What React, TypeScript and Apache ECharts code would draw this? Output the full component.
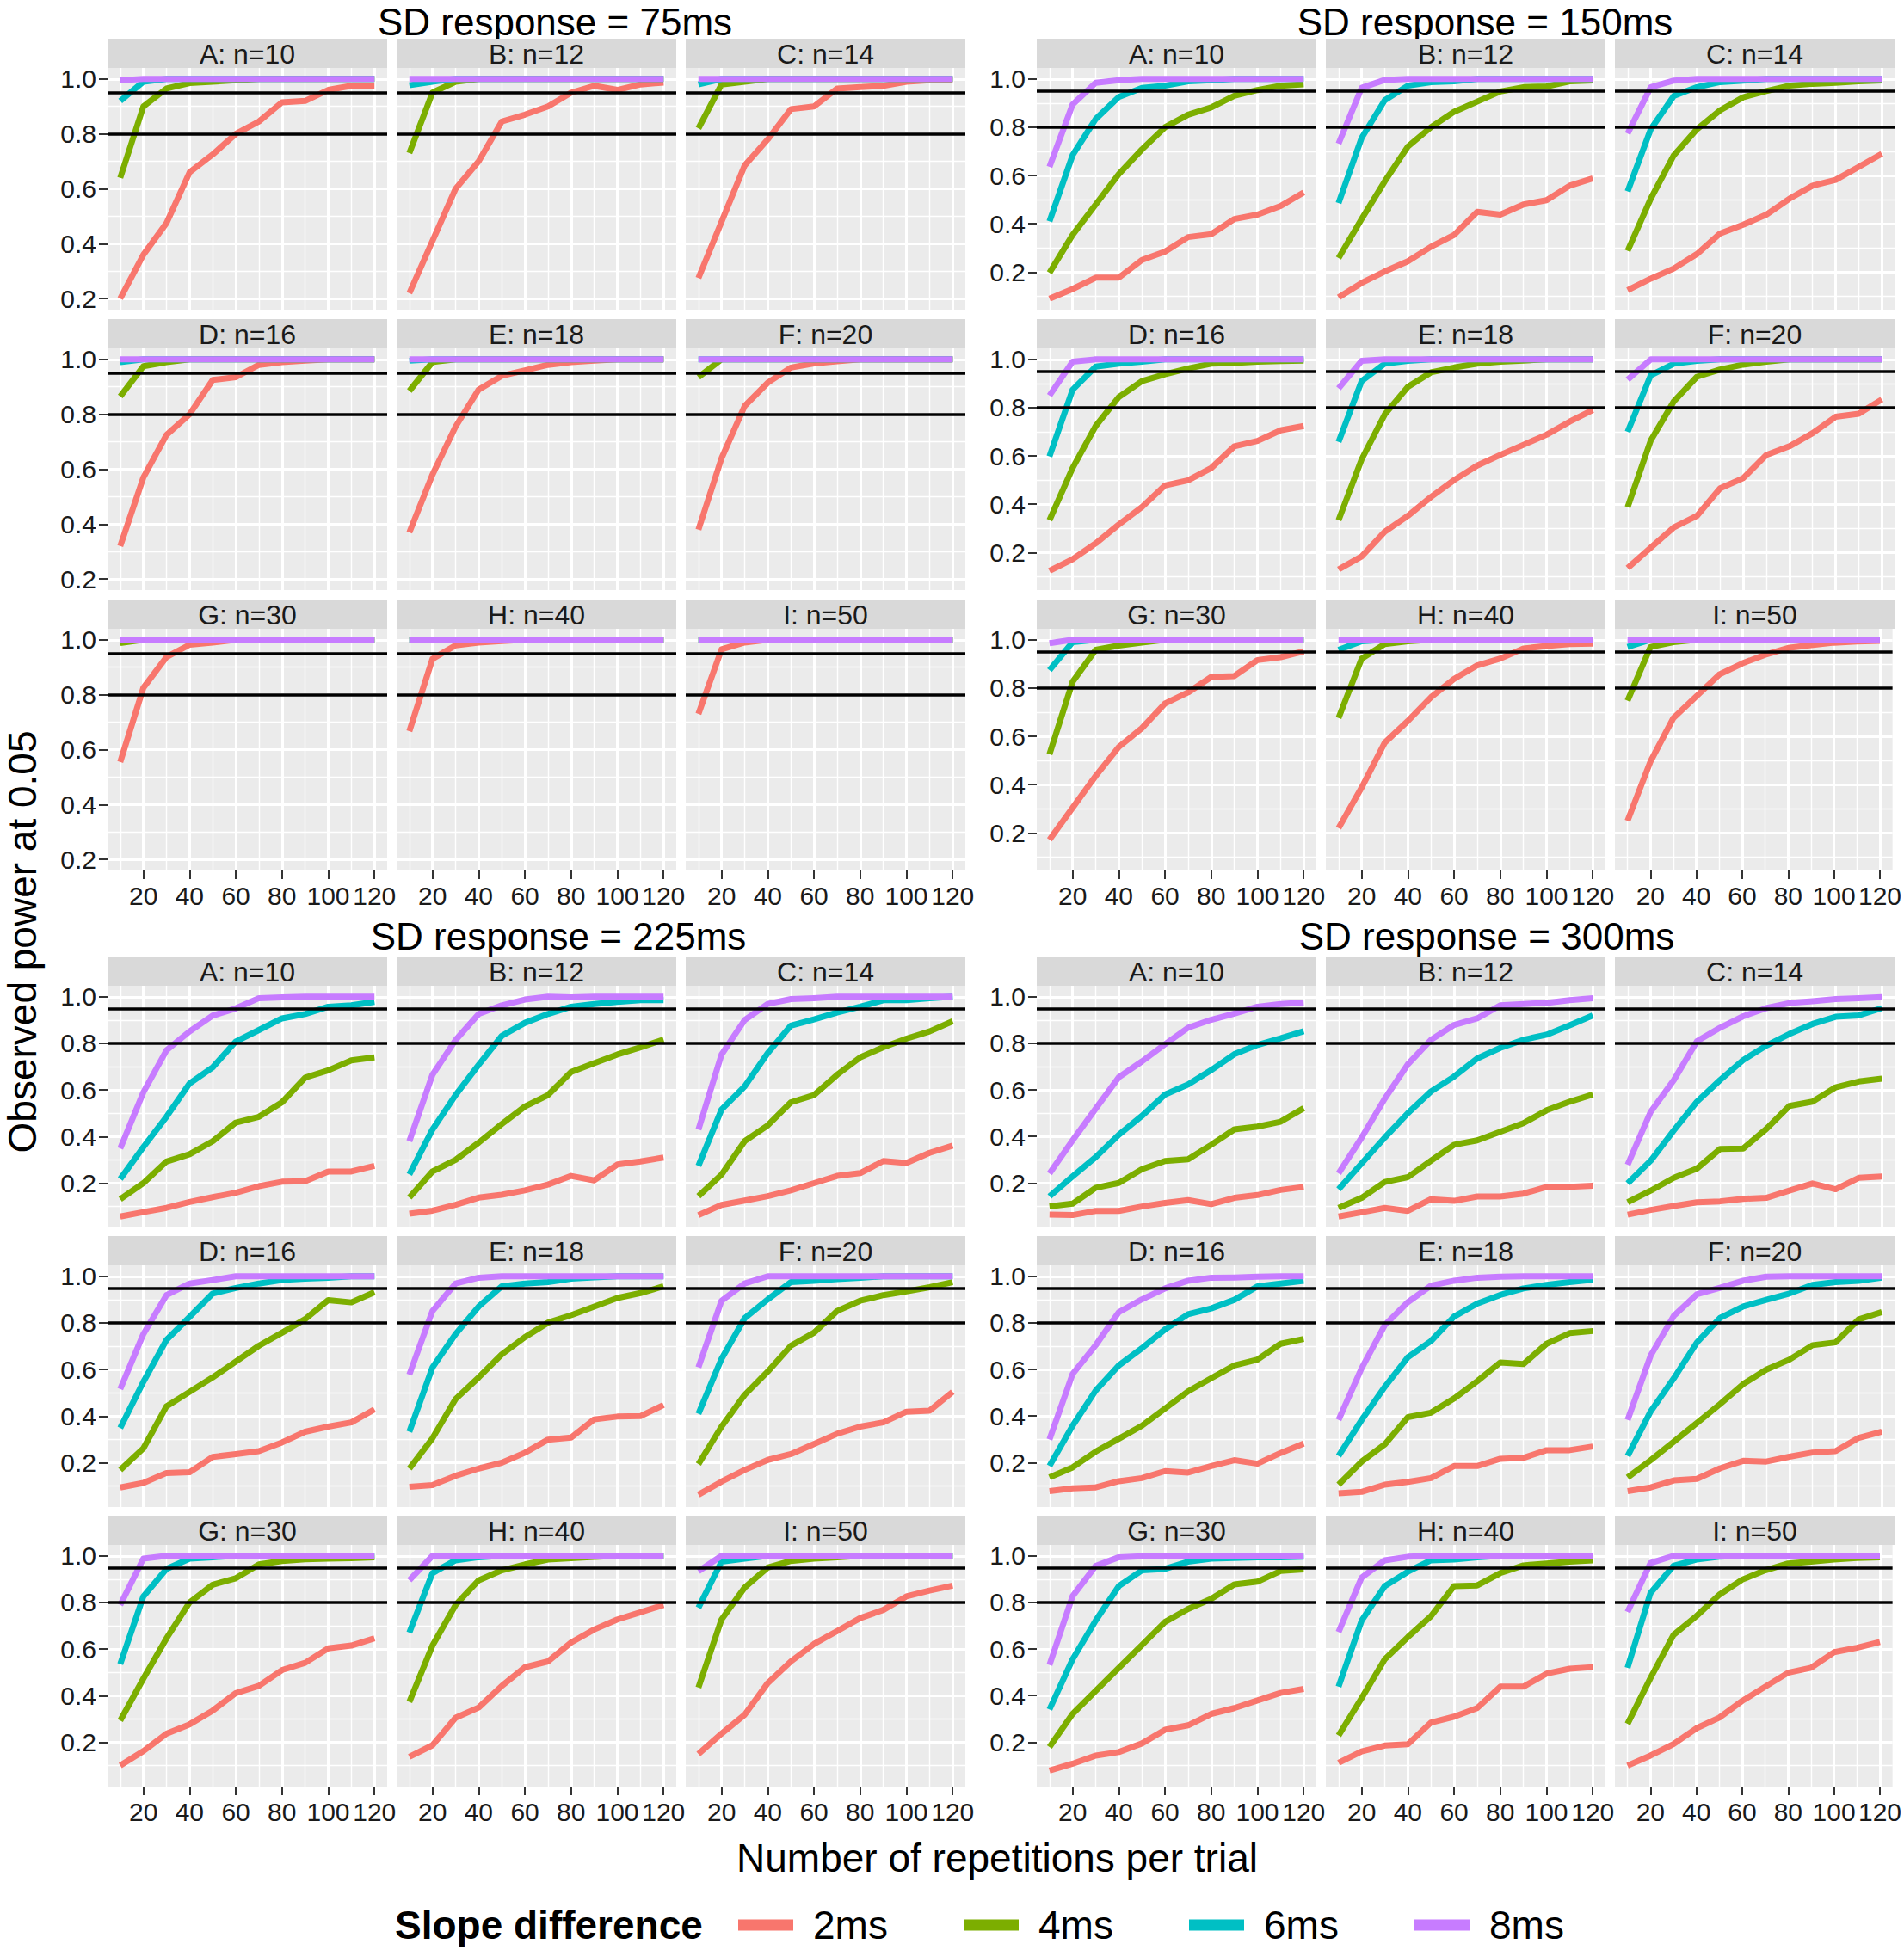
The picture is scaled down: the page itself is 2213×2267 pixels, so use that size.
import React, { useEffect, useRef } from 'react';
import * as echarts from 'echarts';

// ---------- data ----------
const REPS = [10, 20, 30, 40, 50, 60, 70, 80, 90, 100, 110, 120];
const X_TICKS = [20, 40, 60, 80, 100, 120];
const X_MINOR = [10, 30, 50, 70, 90, 110];
const Y_TICKS = [0.2, 0.4, 0.6, 0.8, 1.0];
const Y_MINOR = [0.1, 0.3, 0.5, 0.7, 0.9];
const REF_LINES = [0.8, 0.95];
const PANEL_LETTERS = ['A', 'B', 'C', 'D', 'E', 'F', 'G', 'H', 'I'];
const PANEL_N = [10, 12, 14, 16, 18, 20, 30, 40, 50];
const SLOPES = ['2ms', '4ms', '6ms', '8ms'];
const COLORS = ['#F8766D', '#7CAE00', '#00BFC4', '#C77CFF'];
const BLOCK_TITLES = ['SD response = 75ms', 'SD response = 150ms', 'SD response = 225ms', 'SD response = 300ms'];

// SD response = 75ms ; rows = panels A..I, columns = repetitions 10..120
const sd75_2ms = [
  [0.20, 0.36, 0.475, 0.66, 0.725, 0.80, 0.845, 0.915, 0.92, 0.96, 0.975, 0.975],
  [0.22, 0.41, 0.60, 0.70, 0.845, 0.87, 0.90, 0.95, 0.975, 0.96, 0.98, 0.987],
  [0.275, 0.48, 0.685, 0.78, 0.89, 0.90, 0.965, 0.97, 0.975, 0.99, 0.995, 0.995],
  [0.32, 0.57, 0.725, 0.80, 0.925, 0.935, 0.98, 0.99, 0.995, 1, 1, 1],
  [0.37, 0.58, 0.755, 0.89, 0.94, 0.96, 0.98, 0.99, 0.995, 1, 1, 1],
  [0.38, 0.64, 0.83, 0.915, 0.97, 0.985, 0.993, 1, 1, 1, 1, 1],
  [0.555, 0.825, 0.937, 0.982, 0.99, 1, 1, 1, 1, 1, 1, 1],
  [0.667, 0.93, 0.98, 0.99, 0.995, 1, 1, 1, 1, 1, 1, 1],
  [0.73, 0.965, 0.99, 1, 1, 1, 1, 1, 1, 1, 1, 1],
];
const sd75_4ms = [
  [0.64, 0.90, 0.965, 0.985, 0.99, 0.995, 1, 1, 1, 1, 1, 1],
  [0.73, 0.95, 0.99, 1, 1, 1, 1, 1, 1, 1, 1, 1],
  [0.82, 0.98, 0.99, 1, 1, 1, 1, 1, 1, 1, 1, 1],
  [0.865, 0.975, 0.99, 1, 1, 1, 1, 1, 1, 1, 1, 1],
  [0.885, 0.99, 1, 1, 1, 1, 1, 1, 1, 1, 1, 1],
  [0.935, 1, 1, 1, 1, 1, 1, 1, 1, 1, 1, 1],
  [0.988, 1, 1, 1, 1, 1, 1, 1, 1, 1, 1, 1],
  [0.998, 1, 1, 1, 1, 1, 1, 1, 1, 1, 1, 1],
  [1, 1, 1, 1, 1, 1, 1, 1, 1, 1, 1, 1],
];
const sd75_6ms = [
  [0.92, 0.99, 1, 1, 1, 1, 1, 1, 1, 1, 1, 1],
  [0.977, 0.99, 1, 1, 1, 1, 1, 1, 1, 1, 1, 1],
  [0.98, 1, 1, 1, 1, 1, 1, 1, 1, 1, 1, 1],
  [0.99, 1, 1, 1, 1, 1, 1, 1, 1, 1, 1, 1],
  [0.995, 1, 1, 1, 1, 1, 1, 1, 1, 1, 1, 1],
  [1, 1, 1, 1, 1, 1, 1, 1, 1, 1, 1, 1],
  [1, 1, 1, 1, 1, 1, 1, 1, 1, 1, 1, 1],
  [1, 1, 1, 1, 1, 1, 1, 1, 1, 1, 1, 1],
  [1, 1, 1, 1, 1, 1, 1, 1, 1, 1, 1, 1],
];
const sd75_8ms = [
  [0.995, 1, 1, 1, 1, 1, 1, 1, 1, 1, 1, 1],
  [1, 1, 1, 1, 1, 1, 1, 1, 1, 1, 1, 1],
  [1, 1, 1, 1, 1, 1, 1, 1, 1, 1, 1, 1],
  [1, 1, 1, 1, 1, 1, 1, 1, 1, 1, 1, 1],
  [1, 1, 1, 1, 1, 1, 1, 1, 1, 1, 1, 1],
  [1, 1, 1, 1, 1, 1, 1, 1, 1, 1, 1, 1],
  [1, 1, 1, 1, 1, 1, 1, 1, 1, 1, 1, 1],
  [1, 1, 1, 1, 1, 1, 1, 1, 1, 1, 1, 1],
  [1, 1, 1, 1, 1, 1, 1, 1, 1, 1, 1, 1],
];

// SD response = 150ms
const sd150_2ms = [
  [0.09, 0.13, 0.177, 0.177, 0.25, 0.285, 0.345, 0.357, 0.42, 0.438, 0.474, 0.53],
  [0.095, 0.155, 0.203, 0.245, 0.305, 0.354, 0.45, 0.438, 0.48, 0.498, 0.558, 0.588],
  [0.125, 0.173, 0.215, 0.275, 0.36, 0.396, 0.438, 0.504, 0.558, 0.582, 0.636, 0.69],
  [0.124, 0.172, 0.238, 0.316, 0.388, 0.478, 0.499, 0.55, 0.64, 0.662, 0.706, 0.724],
  [0.13, 0.184, 0.286, 0.352, 0.43, 0.50, 0.56, 0.604, 0.646, 0.688, 0.742, 0.79],
  [0.136, 0.22, 0.304, 0.352, 0.466, 0.508, 0.604, 0.64, 0.694, 0.762, 0.775, 0.834],
  [0.172, 0.304, 0.436, 0.556, 0.634, 0.736, 0.782, 0.846, 0.85, 0.916, 0.928, 0.952],
  [0.22, 0.388, 0.574, 0.664, 0.762, 0.838, 0.894, 0.922, 0.964, 0.974, 0.982, 0.984],
  [0.25, 0.496, 0.676, 0.766, 0.856, 0.902, 0.938, 0.966, 0.978, 0.988, 0.993, 0.996],
];
const sd150_4ms = [
  [0.197, 0.354, 0.48, 0.606, 0.708, 0.80, 0.852, 0.882, 0.93, 0.954, 0.972, 0.978],
  [0.258, 0.42, 0.576, 0.72, 0.80, 0.864, 0.906, 0.948, 0.966, 0.969, 0.99, 0.994],
  [0.288, 0.504, 0.684, 0.792, 0.87, 0.924, 0.95, 0.972, 0.98, 0.984, 0.99, 0.994],
  [0.334, 0.55, 0.724, 0.844, 0.91, 0.938, 0.962, 0.982, 0.985, 0.99, 0.993, 0.995],
  [0.334, 0.586, 0.772, 0.886, 0.946, 0.966, 0.982, 0.99, 0.995, 1, 1, 1],
  [0.388, 0.664, 0.826, 0.928, 0.958, 0.978, 0.99, 1, 1, 1, 1, 1],
  [0.526, 0.826, 0.958, 0.976, 0.988, 1, 1, 1, 1, 1, 1, 1],
  [0.676, 0.922, 0.982, 0.994, 1, 1, 1, 1, 1, 1, 1, 1],
  [0.748, 0.97, 0.99, 1, 1, 1, 1, 1, 1, 1, 1, 1],
];
const sd150_6ms = [
  [0.41, 0.684, 0.834, 0.925, 0.963, 0.972, 0.99, 0.995, 1, 1, 1, 1],
  [0.486, 0.756, 0.912, 0.972, 0.987, 0.99, 1, 1, 1, 1, 1, 1],
  [0.534, 0.792, 0.93, 0.966, 0.987, 0.993, 1, 1, 1, 1, 1, 1],
  [0.598, 0.874, 0.97, 0.982, 0.99, 1, 1, 1, 1, 1, 1, 1],
  [0.658, 0.91, 0.982, 0.994, 1, 1, 1, 1, 1, 1, 1, 1],
  [0.70, 0.934, 0.982, 0.994, 1, 1, 1, 1, 1, 1, 1, 1],
  [0.874, 0.99, 1, 1, 1, 1, 1, 1, 1, 1, 1, 1],
  [0.958, 0.994, 1, 1, 1, 1, 1, 1, 1, 1, 1, 1],
  [0.97, 1, 1, 1, 1, 1, 1, 1, 1, 1, 1, 1],
];
const sd150_8ms = [
  [0.636, 0.894, 0.984, 0.995, 1, 1, 1, 1, 1, 1, 1, 1],
  [0.732, 0.963, 0.996, 1, 1, 1, 1, 1, 1, 1, 1, 1],
  [0.774, 0.966, 0.993, 1, 1, 1, 1, 1, 1, 1, 1, 1],
  [0.85, 0.99, 1, 1, 1, 1, 1, 1, 1, 1, 1, 1],
  [0.88, 0.994, 1, 1, 1, 1, 1, 1, 1, 1, 1, 1],
  [0.916, 1, 1, 1, 1, 1, 1, 1, 1, 1, 1, 1],
  [0.986, 1, 1, 1, 1, 1, 1, 1, 1, 1, 1, 1],
  [1, 1, 1, 1, 1, 1, 1, 1, 1, 1, 1, 1],
  [1, 1, 1, 1, 1, 1, 1, 1, 1, 1, 1, 1],
];

// SD response = 225ms
const sd225_2ms = [
  [0.057, 0.076, 0.094, 0.119, 0.14, 0.159, 0.187, 0.206, 0.208, 0.25, 0.25, 0.274],
  [0.069, 0.082, 0.107, 0.138, 0.15, 0.169, 0.194, 0.231, 0.212, 0.28, 0.293, 0.31],
  [0.063, 0.107, 0.125, 0.144, 0.169, 0.20, 0.231, 0.243, 0.295, 0.287, 0.33, 0.361],
  [0.094, 0.113, 0.156, 0.159, 0.225, 0.237, 0.25, 0.287, 0.333, 0.355, 0.373, 0.429],
  [0.097, 0.104, 0.144, 0.175, 0.20, 0.243, 0.299, 0.308, 0.386, 0.398, 0.40, 0.448],
  [0.063, 0.119, 0.169, 0.212, 0.237, 0.28, 0.324, 0.355, 0.373, 0.419, 0.423, 0.504],
  [0.10, 0.162, 0.237, 0.277, 0.336, 0.411, 0.442, 0.51, 0.541, 0.603, 0.615, 0.646],
  [0.138, 0.187, 0.305, 0.349, 0.442, 0.522, 0.547, 0.628, 0.684, 0.727, 0.758, 0.789],
  [0.15, 0.237, 0.318, 0.454, 0.547, 0.622, 0.677, 0.733, 0.768, 0.826, 0.851, 0.872],
];
const sd225_4ms = [
  [0.131, 0.20, 0.293, 0.324, 0.38, 0.46, 0.485, 0.547, 0.653, 0.684, 0.727, 0.74],
  [0.138, 0.25, 0.30, 0.374, 0.454, 0.529, 0.578, 0.677, 0.715, 0.752, 0.783, 0.816],
  [0.144, 0.237, 0.38, 0.448, 0.547, 0.578, 0.665, 0.74, 0.783, 0.82, 0.851, 0.895],
  [0.169, 0.262, 0.442, 0.504, 0.566, 0.634, 0.702, 0.758, 0.816, 0.898, 0.888, 0.932],
  [0.175, 0.305, 0.473, 0.566, 0.665, 0.739, 0.801, 0.833, 0.87, 0.907, 0.928, 0.957],
  [0.194, 0.355, 0.491, 0.591, 0.702, 0.758, 0.851, 0.895, 0.919, 0.935, 0.953, 0.975],
  [0.293, 0.473, 0.646, 0.80, 0.876, 0.904, 0.963, 0.978, 0.985, 0.988, 0.99, 0.994],
  [0.373, 0.615, 0.789, 0.895, 0.938, 0.963, 0.984, 0.99, 0.995, 1, 1, 1],
  [0.435, 0.727, 0.864, 0.95, 0.978, 0.988, 0.994, 1, 1, 1, 1, 1],
];
const sd225_6ms = [
  [0.218, 0.355, 0.485, 0.628, 0.697, 0.808, 0.857, 0.907, 0.926, 0.957, 0.963, 0.978],
  [0.237, 0.43, 0.578, 0.708, 0.832, 0.888, 0.926, 0.957, 0.969, 0.978, 0.985, 0.985],
  [0.274, 0.516, 0.615, 0.758, 0.876, 0.903, 0.932, 0.957, 0.985, 0.985, 0.994, 1],
  [0.349, 0.547, 0.727, 0.826, 0.926, 0.95, 0.969, 0.984, 0.99, 0.994, 1, 1],
  [0.333, 0.609, 0.752, 0.87, 0.957, 0.969, 0.975, 0.99, 0.995, 1, 1, 1],
  [0.41, 0.646, 0.82, 0.901, 0.975, 0.981, 0.988, 0.994, 1, 1, 1, 1],
  [0.535, 0.826, 0.944, 0.988, 0.994, 1, 1, 1, 1, 1, 1, 1],
  [0.671, 0.926, 0.981, 0.994, 1, 1, 1, 1, 1, 1, 1, 1],
  [0.777, 0.975, 0.988, 1, 1, 1, 1, 1, 1, 1, 1, 1],
];
const sd225_8ms = [
  [0.349, 0.59, 0.77, 0.851, 0.919, 0.95, 0.994, 0.997, 1, 1, 1, 1],
  [0.38, 0.665, 0.814, 0.926, 0.963, 0.988, 1, 0.997, 1, 1, 1, 1],
  [0.43, 0.752, 0.90, 0.969, 0.99, 0.994, 1, 1, 1, 1, 1, 1],
  [0.516, 0.752, 0.919, 0.969, 0.984, 1, 1, 1, 1, 1, 1, 1],
  [0.578, 0.851, 0.969, 0.994, 1, 1, 1, 1, 1, 1, 1, 1],
  [0.609, 0.895, 0.969, 1, 1, 1, 1, 1, 1, 1, 1, 1],
  [0.789, 0.988, 1, 1, 1, 1, 1, 1, 1, 1, 1, 1],
  [0.895, 1, 1, 1, 1, 1, 1, 1, 1, 1, 1, 1],
  [0.934, 1, 1, 1, 1, 1, 1, 1, 1, 1, 1, 1],
];

// SD response = 300ms
const sd300_2ms = [
  [0.064, 0.062, 0.08, 0.08, 0.099, 0.114, 0.126, 0.109, 0.136, 0.148, 0.17, 0.183],
  [0.056, 0.074, 0.093, 0.08, 0.13, 0.123, 0.142, 0.142, 0.154, 0.183, 0.183, 0.188],
  [0.064, 0.084, 0.101, 0.117, 0.121, 0.132, 0.136, 0.167, 0.198, 0.173, 0.222, 0.228],
  [0.077, 0.089, 0.093, 0.12, 0.133, 0.163, 0.157, 0.185, 0.21, 0.195, 0.241, 0.281],
  [0.068, 0.074, 0.105, 0.117, 0.133, 0.185, 0.185, 0.216, 0.22, 0.253, 0.253, 0.269],
  [0.077, 0.093, 0.123, 0.13, 0.175, 0.207, 0.204, 0.225, 0.243, 0.249, 0.306, 0.333],
  [0.078, 0.107, 0.142, 0.157, 0.194, 0.253, 0.272, 0.321, 0.346, 0.379, 0.411, 0.428],
  [0.111, 0.16, 0.185, 0.191, 0.284, 0.309, 0.346, 0.438, 0.438, 0.494, 0.515, 0.522],
  [0.099, 0.142, 0.191, 0.259, 0.305, 0.377, 0.438, 0.498, 0.519, 0.586, 0.605, 0.63],
];
const sd300_4ms = [
  [0.099, 0.111, 0.179, 0.20, 0.259, 0.294, 0.302, 0.364, 0.43, 0.442, 0.463, 0.521],
  [0.093, 0.136, 0.204, 0.225, 0.296, 0.364, 0.383, 0.42, 0.457, 0.512, 0.549, 0.58],
  [0.117, 0.167, 0.222, 0.262, 0.346, 0.348, 0.432, 0.531, 0.549, 0.611, 0.636, 0.648],
  [0.136, 0.179, 0.247, 0.302, 0.358, 0.432, 0.506, 0.562, 0.617, 0.642, 0.71, 0.731],
  [0.105, 0.204, 0.278, 0.395, 0.414, 0.475, 0.549, 0.63, 0.623, 0.71, 0.756, 0.765],
  [0.136, 0.21, 0.29, 0.37, 0.451, 0.537, 0.599, 0.642, 0.704, 0.716, 0.815, 0.846],
  [0.179, 0.321, 0.42, 0.519, 0.617, 0.716, 0.772, 0.815, 0.877, 0.889, 0.935, 0.942],
  [0.228, 0.389, 0.556, 0.651, 0.741, 0.87, 0.873, 0.926, 0.959, 0.967, 0.975, 0.981],
  [0.278, 0.475, 0.66, 0.741, 0.833, 0.898, 0.938, 0.967, 0.975, 0.984, 0.991, 0.994],
];
const sd300_6ms = [
  [0.142, 0.228, 0.311, 0.407, 0.488, 0.58, 0.623, 0.685, 0.753, 0.793, 0.821, 0.852],
  [0.173, 0.284, 0.395, 0.50, 0.593, 0.657, 0.735, 0.78, 0.815, 0.837, 0.877, 0.92],
  [0.198, 0.296, 0.426, 0.549, 0.642, 0.728, 0.79, 0.84, 0.883, 0.914, 0.92, 0.951],
  [0.185, 0.358, 0.509, 0.617, 0.691, 0.772, 0.837, 0.862, 0.899, 0.957, 0.969, 0.981],
  [0.228, 0.383, 0.525, 0.652, 0.722, 0.827, 0.883, 0.92, 0.948, 0.963, 0.975, 0.985],
  [0.228, 0.42, 0.562, 0.716, 0.821, 0.87, 0.899, 0.926, 0.963, 0.975, 0.981, 0.994],
  [0.34, 0.556, 0.722, 0.87, 0.938, 0.944, 0.975, 0.988, 0.991, 0.994, 0.994, 0.996],
  [0.438, 0.722, 0.87, 0.932, 0.981, 0.984, 0.994, 1, 1, 1, 1, 1],
  [0.519, 0.84, 0.957, 0.984, 0.996, 1, 1, 1, 1, 1, 1, 1],
];
const sd300_8ms = [
  [0.241, 0.383, 0.519, 0.654, 0.722, 0.796, 0.867, 0.901, 0.928, 0.957, 0.969, 0.975],
  [0.241, 0.395, 0.562, 0.71, 0.815, 0.879, 0.907, 0.963, 0.969, 0.973, 0.985, 0.994],
  [0.278, 0.506, 0.642, 0.809, 0.867, 0.916, 0.951, 0.973, 0.981, 0.99, 0.994, 0.998],
  [0.299, 0.58, 0.704, 0.846, 0.901, 0.948, 0.981, 0.994, 0.995, 0.998, 1, 1],
  [0.383, 0.605, 0.79, 0.889, 0.96, 0.981, 0.994, 0.998, 1, 1, 1, 1],
  [0.383, 0.66, 0.83, 0.923, 0.951, 0.981, 0.998, 1, 1, 1, 1, 1],
  [0.531, 0.827, 0.957, 0.994, 0.998, 1, 1, 1, 1, 1, 1, 1],
  [0.673, 0.907, 0.981, 0.996, 1, 1, 1, 1, 1, 1, 1, 1],
  [0.759, 0.969, 1, 1, 1, 1, 1, 1, 1, 1, 1, 1],
];

const BLOCKS = [
  [sd75_2ms, sd75_4ms, sd75_6ms, sd75_8ms],
  [sd150_2ms, sd150_4ms, sd150_6ms, sd150_8ms],
  [sd225_2ms, sd225_4ms, sd225_6ms, sd225_8ms],
  [sd300_2ms, sd300_4ms, sd300_6ms, sd300_8ms],
];

// ---------- layout ----------
const W = 2213;
const H = 2267;
const FONT = '"Liberation Sans", Arial, Helvetica, sans-serif';
const BLOCK_LEFT = [125, 1205, 125, 1205];
const BLOCK_TOP = [45, 45, 1112, 1112];
const ROW_PITCH = [326, 326, 325, 325];
const COL_PITCH = 336;
const PANEL_W = 325;
const STRIP_H = 34;
const PANEL_H = 281;
// title boxes: [centre x, top y]
const TITLE_POS = [[645, 3], [1726, 3], [649, 1066], [1728, 1066]];
const FS_TITLE = 44;
const FS_STRIP = 32;
const FS_TICK = 30;
const FS_AXIS_TITLE = 46;
const FS_LEGEND = 46;

function textStyle(text: string, fontSize: number, align: string, extra: any = {}, vAlign = 'middle') {
  return {
    text,
    fontSize,
    fontFamily: FONT,
    fill: '#000',
    align,
    verticalAlign: vAlign,
    textAlign: align,
    textVerticalAlign: vAlign,
    ...extra,
  };
}

function buildOption() {
  const grids: any[] = [];
  const xAxes: any[] = [];
  const yAxes: any[] = [];
  const series: any[] = [];
  const graphics: any[] = [];

  const xLo = Math.min(...REPS);
  const xHi = Math.max(...REPS);
  const xPad = (xHi - xLo) * 0.05;
  const xMin = xLo - xPad;
  const xMax = xHi + xPad;

  BLOCKS.forEach((block, b) => {
    const all = block.flat(2);
    const lo = Math.min(...all);
    const hi = Math.max(...all);
    const pad = (hi - lo) * 0.05;
    const yMin = lo - pad;
    const yMax = hi + pad;

    graphics.push({
      type: 'text',
      x: TITLE_POS[b][0],
      y: TITLE_POS[b][1],
      style: textStyle(BLOCK_TITLES[b], FS_TITLE, 'center', {}, 'top'),
    });

    for (let p = 0; p < 9; p++) {
      const row = Math.floor(p / 3);
      const col = p % 3;
      const left = BLOCK_LEFT[b] + col * COL_PITCH;
      const stripTop = BLOCK_TOP[b] + row * ROW_PITCH[b];
      const top = stripTop + STRIP_H;
      const g = grids.length;

      grids.push({
        left,
        top,
        width: PANEL_W,
        height: PANEL_H,
        show: true,
        backgroundColor: '#EBEBEB',
        borderWidth: 0,
        containLabel: false,
      });

      graphics.push({
        type: 'rect',
        shape: { x: left, y: stripTop, width: PANEL_W, height: STRIP_H },
        style: { fill: '#D9D9D9' },
        silent: true,
      });
      graphics.push({
        type: 'text',
        x: left + PANEL_W / 2,
        y: stripTop + STRIP_H / 2 + 1,
        style: textStyle(`${PANEL_LETTERS[p]}: n=${PANEL_N[p]}`, FS_STRIP, 'center', { fill: '#1A1A1A' }),
      });

      const showX = row === 2;
      const showY = col === 0;
      const yMinorVals = Y_MINOR.filter((v) => v >= yMin && v <= yMax);

      xAxes.push({
        type: 'value',
        gridIndex: g,
        min: xMin,
        max: xMax,
        position: 'bottom',
        z: 1,
        axisLine: { show: false },
        axisTick: {
          show: showX,
          customValues: X_TICKS,
          length: 10,
          lineStyle: { color: '#333333', width: 2 },
        },
        axisLabel: {
          show: showX,
          customValues: X_TICKS,
          fontSize: FS_TICK,
          fontFamily: FONT,
          color: '#1A1A1A',
          margin: 14,
        },
        splitLine: { show: true, lineStyle: { color: '#FFFFFF', width: 3 } },
      });
      xAxes.push({
        type: 'value',
        gridIndex: g,
        min: xMin,
        max: xMax,
        position: 'top',
        z: 1,
        axisLine: { show: false },
        axisTick: { show: false, customValues: X_MINOR },
        axisLabel: { show: false, customValues: X_MINOR },
        splitLine: { show: true, lineStyle: { color: '#FFFFFF', width: 1.4 } },
      });
      yAxes.push({
        type: 'value',
        gridIndex: g,
        min: yMin,
        max: yMax,
        position: 'left',
        z: 1,
        axisLine: { show: false },
        axisTick: {
          show: showY,
          customValues: Y_TICKS,
          length: 10,
          lineStyle: { color: '#333333', width: 2 },
        },
        axisLabel: {
          show: showY,
          customValues: Y_TICKS,
          fontSize: FS_TICK,
          fontFamily: FONT,
          color: '#1A1A1A',
          margin: 13,
          formatter: (v: number) => v.toFixed(1),
        },
        splitLine: { show: true, lineStyle: { color: '#FFFFFF', width: 3 } },
      });
      yAxes.push({
        type: 'value',
        gridIndex: g,
        min: yMin,
        max: yMax,
        position: 'right',
        z: 1,
        axisLine: { show: false },
        axisTick: { show: false, customValues: yMinorVals },
        axisLabel: { show: false, customValues: yMinorVals },
        splitLine: { show: true, lineStyle: { color: '#FFFFFF', width: 1.4 } },
      });

      block.forEach((slopeRows, s) => {
        const vals = slopeRows[p];
        const ser: any = {
          type: 'line',
          name: SLOPES[s],
          xAxisIndex: 2 * g,
          yAxisIndex: 2 * g,
          data: REPS.map((x, i) => [x, vals[i]]),
          symbol: 'none',
          showSymbol: false,
          z: 2,
          lineStyle: { color: COLORS[s], width: 7, join: 'round', cap: 'butt' },
          itemStyle: { color: COLORS[s] },
          silent: true,
        };
        if (s === SLOPES.length - 1) {
          ser.markLine = {
            silent: true,
            symbol: ['none', 'none'],
            label: { show: false },
            lineStyle: { color: '#000000', width: 3.5, type: 'solid' },
            emphasis: { disabled: true },
            data: REF_LINES.map((v) => ({ yAxis: v })),
          };
        }
        series.push(ser);
      });
    }
  });

  // axis titles
  graphics.push({
    type: 'text',
    x: 1159,
    y: 2160,
    style: textStyle('Number of repetitions per trial', FS_AXIS_TITLE, 'center'),
  });
  graphics.push({
    type: 'text',
    x: 26,
    y: 1095,
    rotation: Math.PI / 2,
    style: textStyle('Observed power at 0.05', FS_AXIS_TITLE, 'center'),
  });

  // legend
  const legendY = 2238;
  graphics.push({
    type: 'text',
    x: 459,
    y: legendY,
    style: textStyle('Slope difference', FS_LEGEND, 'left', { fontWeight: 'bold' }),
  });
  SLOPES.forEach((name, s) => {
    const kx = 858 + s * 262;
    graphics.push({
      type: 'rect',
      shape: { x: kx, y: legendY - 6.5, width: 64, height: 13 },
      style: { fill: COLORS[s] },
    });
    graphics.push({
      type: 'text',
      x: kx + 87,
      y: legendY,
      style: textStyle(name, FS_LEGEND, 'left'),
    });
  });

  return {
    animation: false,
    backgroundColor: '#FFFFFF',
    grid: grids,
    xAxis: xAxes,
    yAxis: yAxes,
    series,
    graphic: { elements: graphics },
  };
}

export default function App() {
  const ref = useRef<HTMLDivElement | null>(null);
  useEffect(() => {
    if (!ref.current) return;
    const chart = echarts.init(ref.current, undefined, { renderer: 'svg', width: W, height: H });
    chart.setOption(buildOption() as any);
    return () => {
      chart.dispose();
    };
  }, []);
  return (
    <div
      ref={ref}
      style={{ position: 'absolute', left: 0, top: 0, width: W, height: H, background: '#fff' }}
    />
  );
}
